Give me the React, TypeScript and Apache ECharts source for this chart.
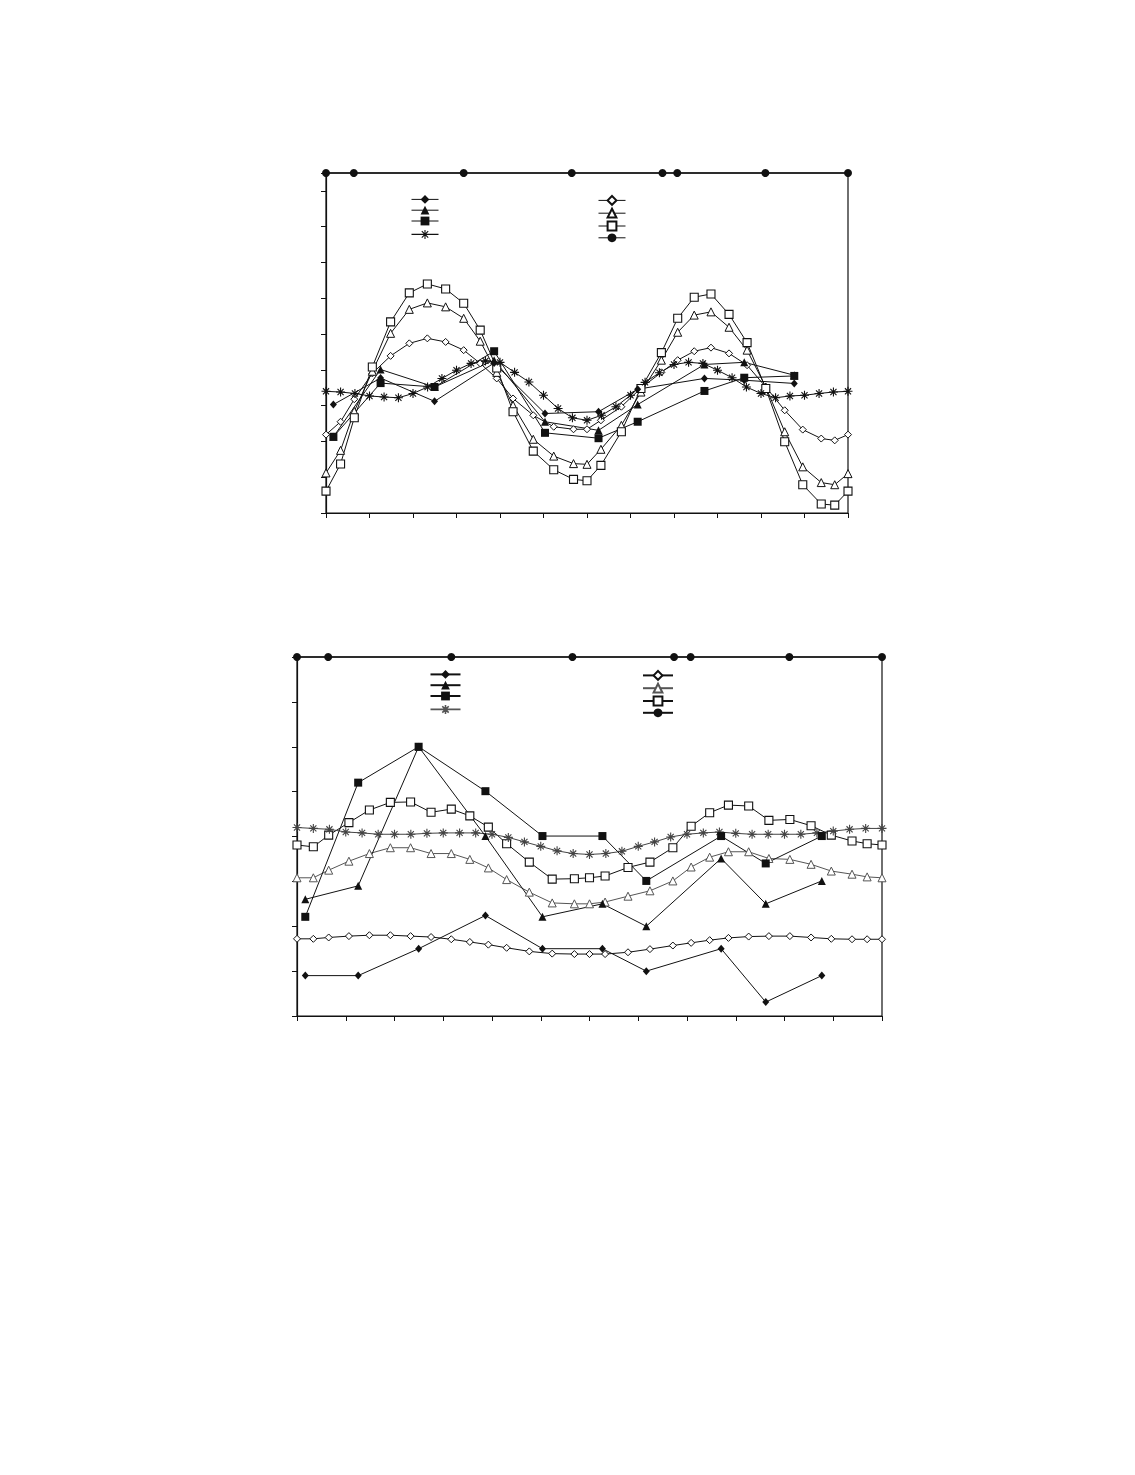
import React, { useEffect, useRef } from 'react';
import * as echarts from 'echarts';

// ---- shared x positions (hours) ----
const X_OPEN = [0, 0.67, 1.3, 2.13, 2.97, 3.83, 4.66, 5.5, 6.33, 7.09, 7.85, 8.6, 9.53, 10.47, 11.38, 12.0, 12.64, 13.58, 14.48, 15.42, 16.17, 16.93, 17.7, 18.53, 19.36, 20.22, 21.09, 21.92, 22.77, 23.39, 24];
const X_STAR = [0, 0.67, 1.33, 2, 2.67, 3.33, 4, 4.67, 5.33, 6, 6.67, 7.33, 8, 8.67, 9.33, 10, 10.67, 11.33, 12, 12.67, 13.33, 14, 14.67, 15.33, 16, 16.67, 17.33, 18, 18.67, 19.33, 20, 20.67, 21.33, 22, 22.67, 23.33, 24];
const X_MEAS = [0.34, 2.51, 4.99, 7.73, 10.07, 12.53, 14.33, 17.4, 19.23, 21.53];
const X_SUN = [0, 1.28, 6.33, 11.3, 15.47, 16.15, 20.2, 24];

// ---- top chart ----
const A_OPEN_DIAMOND = [2.19, 2.55, 3.18, 3.90, 4.39, 4.74, 4.88, 4.78, 4.55, 4.18, 3.76, 3.20, 2.73, 2.41, 2.34, 2.34, 2.59, 2.97, 3.49, 3.93, 4.27, 4.52, 4.62, 4.46, 4.13, 3.52, 2.87, 2.33, 2.08, 2.03, 2.19];
const A_OPEN_TRI = [1.12, 1.75, 2.84, 3.96, 5.02, 5.69, 5.87, 5.76, 5.44, 4.80, 3.93, 3.01, 2.06, 1.59, 1.38, 1.36, 1.78, 2.45, 3.38, 4.27, 5.05, 5.53, 5.62, 5.19, 4.55, 3.52, 2.27, 1.29, 0.85, 0.79, 1.10];
const A_OPEN_SQ = [0.61, 1.37, 2.66, 4.08, 5.34, 6.15, 6.40, 6.26, 5.86, 5.11, 4.05, 2.83, 1.73, 1.21, 0.94, 0.90, 1.33, 2.27, 3.48, 4.48, 5.44, 6.03, 6.12, 5.55, 4.76, 3.48, 1.99, 0.79, 0.25, 0.22, 0.61];
const A_STAR = [3.40, 3.38, 3.34, 3.27, 3.24, 3.22, 3.34, 3.52, 3.76, 3.99, 4.18, 4.25, 4.21, 3.93, 3.66, 3.29, 2.92, 2.66, 2.59, 2.73, 2.97, 3.29, 3.65, 3.92, 4.15, 4.21, 4.18, 3.99, 3.78, 3.52, 3.34, 3.22, 3.27, 3.29, 3.34, 3.38, 3.40];
const A_FILL_DIAMOND = [3.03, 3.77, 3.12, 4.19, 2.78, 2.83, 3.46, 3.76, 3.71, 3.62];
const A_FILL_TRI = [2.13, 4.01, 3.52, 4.27, 2.55, 2.31, 3.03, 4.15, 4.21, 3.85];
const A_FILL_SQ = [2.13, 3.63, 3.52, 4.52, 2.24, 2.09, 2.55, 3.41, 3.78, 3.83];
const A_SUN = [9.5, 9.5, 9.5, 9.5, 9.5, 9.5, 9.5, 9.5];

// ---- bottom chart ----
const B_OPEN_DIAMOND = [1.72, 1.72, 1.75, 1.78, 1.80, 1.80, 1.78, 1.76, 1.71, 1.65, 1.59, 1.52, 1.44, 1.39, 1.38, 1.38, 1.38, 1.42, 1.49, 1.57, 1.63, 1.69, 1.74, 1.77, 1.78, 1.78, 1.75, 1.72, 1.71, 1.71, 1.71];
const B_OPEN_TRI = [3.08, 3.08, 3.25, 3.45, 3.62, 3.75, 3.75, 3.62, 3.62, 3.49, 3.30, 3.04, 2.76, 2.52, 2.50, 2.50, 2.54, 2.67, 2.79, 3.01, 3.32, 3.54, 3.66, 3.66, 3.51, 3.49, 3.38, 3.23, 3.16, 3.10, 3.08];
const B_OPEN_SQ = [3.81, 3.77, 4.03, 4.31, 4.59, 4.76, 4.77, 4.54, 4.61, 4.46, 4.21, 3.84, 3.43, 3.05, 3.06, 3.08, 3.12, 3.31, 3.43, 3.75, 4.23, 4.53, 4.70, 4.68, 4.36, 4.38, 4.24, 4.03, 3.90, 3.84, 3.81];
const B_STAR = [4.20, 4.18, 4.16, 4.10, 4.08, 4.05, 4.05, 4.05, 4.07, 4.08, 4.08, 4.08, 4.05, 3.98, 3.88, 3.78, 3.68, 3.62, 3.60, 3.62, 3.67, 3.78, 3.88, 3.99, 4.05, 4.08, 4.10, 4.07, 4.05, 4.05, 4.05, 4.05, 4.08, 4.12, 4.16, 4.18, 4.18];
const B_FILL_DIAMOND = [0.90, 0.90, 1.50, 2.24, 1.50, 1.50, 1.00, 1.50, 0.31, 0.90];
const B_FILL_TRI = [2.60, 2.90, 6.00, 4.01, 2.21, 2.50, 2.00, 3.51, 2.50, 3.01];
const B_FILL_SQ = [2.21, 5.20, 6.00, 5.01, 4.01, 4.01, 3.01, 4.01, 3.40, 4.01];
const B_SUN = [8, 8, 8, 8, 8, 8, 8, 8];

const STAR = 'path://M0,5L10,5M5,0L5,10M1.6,1.6L8.4,8.4M8.4,1.6L1.6,8.4';
// legend icon: horizontal line with an asterisk in the middle (drawn in a 27x11 box)
const STAR_LEGEND_A = 'path://M0,5.5L27,5.5M13.5,1L13.5,10M9,5.5L18,5.5M10.3,2.3L16.7,8.7M16.7,2.3L10.3,8.7';
const STAR_LEGEND_B = 'path://M0,5.5L30,5.5M15,1L15,10M10.5,5.5L19.5,5.5M11.8,2.3L18.2,8.7M18.2,2.3L11.8,8.7';

const zip = (xs: number[], ys: number[]) => ys.map((y, i) => [xs[i], y]);

type Kind = 'fdiamond' | 'ftri' | 'fsq' | 'star' | 'odiamond' | 'otri' | 'osq' | 'circle';

function mk(name: string, g: number, xs: number[], ys: number[], kind: Kind, lineColor = '#111') {
  const base: any = {
    name,
    type: 'line',
    xAxisIndex: g,
    yAxisIndex: g,
    data: zip(xs, ys),
    clip: false,
    showAllSymbol: true,
    lineStyle: { color: lineColor, width: 1 },
  };
  switch (kind) {
    case 'fdiamond':
      return { ...base, symbol: 'diamond', symbolSize: [7, 8], itemStyle: { color: '#111' } };
    case 'ftri':
      return { ...base, symbol: 'triangle', symbolSize: 8, itemStyle: { color: '#111' } };
    case 'fsq':
      return { ...base, symbol: 'rect', symbolSize: 8, itemStyle: { color: '#111' } };
    case 'circle':
      return { ...base, symbol: 'circle', symbolSize: 8, lineStyle: { color: '#111', width: 1.5 }, itemStyle: { color: '#111' } };
    case 'star':
      return { ...base, symbol: STAR, symbolSize: 9, itemStyle: { color: '#111', borderColor: lineColor, borderWidth: 1.1 } };
    case 'odiamond':
      return { ...base, symbol: 'diamond', symbolSize: 7, itemStyle: { color: '#fff', borderColor: '#111', borderWidth: 1 } };
    case 'otri':
      return { ...base, symbol: 'triangle', symbolSize: 8, itemStyle: { color: '#fff', borderColor: lineColor, borderWidth: 1 } };
    case 'osq':
      return { ...base, symbol: 'rect', symbolSize: 8, itemStyle: { color: '#fff', borderColor: '#111', borderWidth: 1.1 } };
  }
}

function axisX(g: number) {
  return {
    gridIndex: g, type: 'value', min: 0, max: 24, interval: 2,
    axisLine: { show: true, onZero: false, lineStyle: { color: '#111', width: 1.2 } },
    axisTick: { show: true, length: 5, lineStyle: { color: '#111', width: 1 } },
    axisLabel: { show: false }, splitLine: { show: false },
  };
}
function axisY(g: number, max: number) {
  return {
    gridIndex: g, type: 'value', min: 0, max, interval: 1,
    axisLine: { show: true, onZero: false, lineStyle: { color: '#111', width: 1.2 } },
    axisTick: { show: true, length: 5, lineStyle: { color: '#111', width: 1 } },
    axisLabel: { show: false }, splitLine: { show: false },
  };
}
function legend(names: (string | object)[], left: number, top: number, w: number, lw: number) {
  return {
    data: names, orient: 'vertical', left, top, itemWidth: w, itemHeight: 11, itemGap: 2,
    padding: 0, selectedMode: false, formatter: () => '',
    textStyle: { fontSize: 8, lineHeight: 8 },
    lineStyle: { width: lw },
  };
}

export default function App() {
  const ref = useRef<HTMLDivElement>(null);
  useEffect(() => {
    if (!ref.current) return;
    const chart = echarts.init(ref.current, undefined, { renderer: 'svg' });
    const series = [
      mk('a5', 0, X_OPEN, A_OPEN_DIAMOND, 'odiamond'),
      mk('a6', 0, X_OPEN, A_OPEN_TRI, 'otri'),
      mk('a7', 0, X_OPEN, A_OPEN_SQ, 'osq'),
      mk('a4', 0, X_STAR, A_STAR, 'star'),
      mk('a1', 0, X_MEAS, A_FILL_DIAMOND, 'fdiamond'),
      mk('a2', 0, X_MEAS, A_FILL_TRI, 'ftri'),
      mk('a3', 0, X_MEAS, A_FILL_SQ, 'fsq'),
      mk('a8', 0, X_SUN, A_SUN, 'circle'),
      mk('b5', 1, X_OPEN, B_OPEN_DIAMOND, 'odiamond'),
      mk('b6', 1, X_OPEN, B_OPEN_TRI, 'otri', '#555'),
      mk('b7', 1, X_OPEN, B_OPEN_SQ, 'osq'),
      mk('b4', 1, X_STAR, B_STAR, 'star', '#444'),
      mk('b1', 1, X_MEAS, B_FILL_DIAMOND, 'fdiamond'),
      mk('b2', 1, X_MEAS, B_FILL_TRI, 'ftri'),
      mk('b3', 1, X_MEAS, B_FILL_SQ, 'fsq'),
      mk('b8', 1, X_SUN, B_SUN, 'circle'),
    ];
    chart.setOption({
      animation: false,
      backgroundColor: '#fff',
      grid: [
        { left: 326, top: 173, width: 522, height: 340, show: true, borderColor: '#111', borderWidth: 1.2 },
        { left: 297, top: 657, width: 585, height: 359, show: true, borderColor: '#111', borderWidth: 1.2 },
      ],
      xAxis: [axisX(0), axisX(1)],
      yAxis: [axisY(0, 9.5), axisY(1, 8)],
      legend: [
        legend(['a1', 'a2', 'a3', { name: 'a4', icon: STAR_LEGEND_A, itemStyle: { color: 'none', borderColor: '#111', borderWidth: 1.1 } }], 409, 195, 27, 1),
        legend(['a5', 'a6', 'a7', 'a8'], 598, 195, 27, 1),
        legend(['b1', 'b2', 'b3', { name: 'b4', icon: STAR_LEGEND_B, itemStyle: { color: 'none', borderColor: '#555', borderWidth: 1.6 } }], 428, 670, 30, 2),
        legend(['b5', 'b6', 'b7', 'b8'], 642, 670, 30, 2),
      ],
      series,
    });
    return () => chart.dispose();
  }, []);
  return <div ref={ref} style={{ position: 'absolute', left: 0, top: 0, width: 1135, height: 1475 }} />;
}
